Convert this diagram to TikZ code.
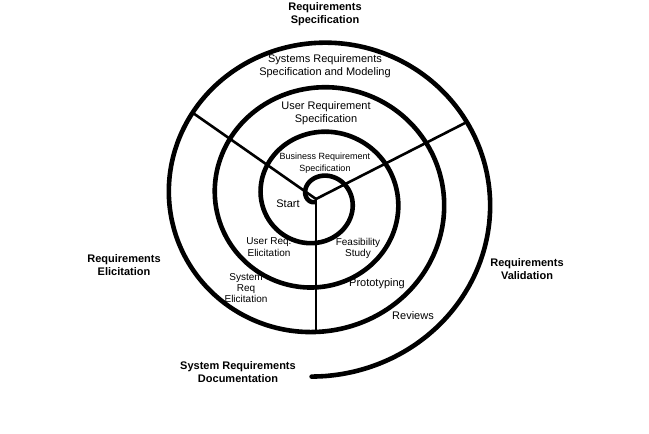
\documentclass[tikz,border=0pt]{standalone}
\usepackage{fontspec}
\setmainfont{Liberation Sans}

\begin{document}
\begin{tikzpicture}[
    x=1pt, y=-1pt,
    every node/.style={align=center, inner sep=0pt, font=\fontsize{11}{13}\selectfont},
    phase/.style={font=\bfseries\fontsize{11}{13}\selectfont},
    small/.style={font=\fontsize{10}{11.5}\selectfont},
    tiny/.style={font=\fontsize{9}{11.5}\selectfont},
    spiral/.style={line width=4.6pt, line cap=round},
    spoke/.style={line width=2.6pt}
]

\useasboundingbox (0,0) rectangle (649,434);

% spiral
\draw [spiral] plot [domain=-225:1172, samples=320, smooth]
    ({318 + (34 + 0.127778*\x)*cos(\x)}, {198.5 + 0.97*(34 + 0.127778*\x)*sin(\x)});

% spokes
\coordinate (hub) at (316,199);
\coordinate (ul) at (193,113);
\coordinate (ur) at (465,123);
\coordinate (dn) at (316,333);
\draw [spoke] (hub) -- (ul);
\draw [spoke] (hub) -- (ur);
\draw [spoke] (hub) -- (dn);

% phases
\node [phase] (spec) at (325,14) {Requirements\\Specification};
\node [phase] (elic) at (124,265.5) {Requirements\\Elicitation};
\node [phase] (valid) at (527,269) {Requirements\\Validation};
\node [phase] (doc) at (238,372.5) {System Requirements\\Documentation};

% activities
\node (sysspec) at (325,66.5) {Systems Requirements\\Specification and Modeling};
\node (userspec) at (326,113) {User Requirement\\Specification};
\node [tiny] (busspec) at (325,163) {Business Requirement\\Specification};
\node (start) at (288,204) {Start};
\node [small] (userelic) at (269,247) {User Req.\\Elicitation};
\node [small] (feas) at (358,248.5) {Feasibility\\Study};
\node [small, font=\fontsize{10}{11}\selectfont] (syselic) at (246,288) {System\\Req\\Elicitation};
\node (proto) at (377,284) {Prototyping};
\node (rev) at (413,316) {Reviews};

\end{tikzpicture}
\end{document}
